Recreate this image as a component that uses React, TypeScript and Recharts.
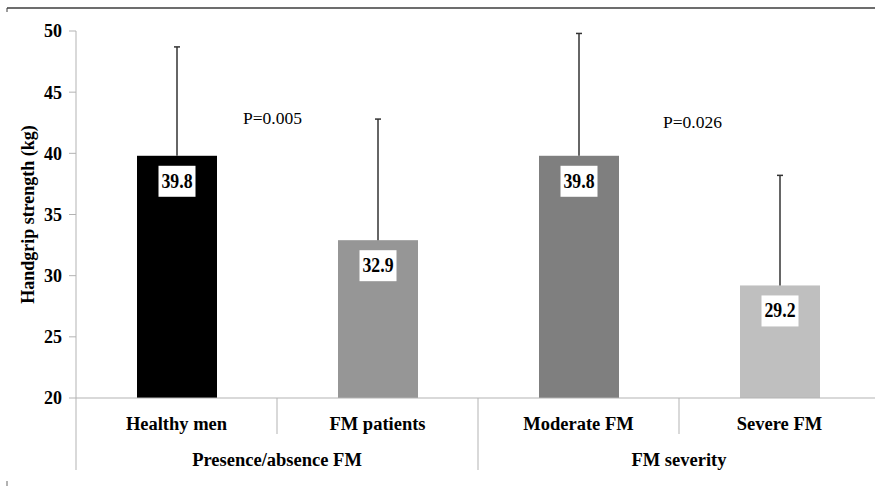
import { BarChart, Bar, XAxis, YAxis, LabelList, ReferenceDot } from 'recharts';

const categories = ['Healthy men', 'FM patients', 'Moderate FM', 'Severe FM'];
const groups = ['Presence/absence FM', 'FM severity'];
const means = [39.8, 32.9, 39.8, 29.2];
const sds = [8.9, 9.9, 10.0, 9.0];
const barColors = ['#000000', '#969696', '#7f7f7f', '#bfbfbf'];
const yDomain = [20, 50];
const yTicks = [20, 25, 30, 35, 40, 45, 50];
const pValues = ['P=0.005', 'P=0.026'];
const pValueLevels = [42.9, 42.6];
const pValueAnchors = ['Healthy men', 'Moderate FM'];

const FONT = '"Liberation Serif", "Times New Roman", Times, serif';
const AXIS = '#b3b3b3';

const data = categories.map((category, i) => ({
    category,
    mean: means[i],
    sd: sds[i],
    color: barColors[i],
}));

// bar plus an upward-only SD whisker, scaled from the bar's own pixel height
const MeanBar = (props: any) => {
    const { x, y, width, height, payload } = props;
    const pxPerUnit = height / (payload.mean - yDomain[0]);
    const top = y - payload.sd * pxPerUnit;
    const cx = x + width / 2;
    return (
        <g>
            <rect x={x} y={y} width={width} height={height} fill={payload.color} />
            <line x1={cx} x2={cx} y1={y} y2={top} stroke="#333" strokeWidth={1.5} />
            <line x1={cx - 3} x2={cx + 3} y1={top} y2={top} stroke="#333" strokeWidth={1.5} />
        </g>
    );
};

const ValueBox = (props: any) => {
    const { x, y, width, value } = props;
    const cx = x + width / 2;
    return (
        <g>
            <rect x={cx - 18.5} y={y + 10} width={37} height={31} fill="#fff" />
            <text
                x={cx}
                y={y + 32}
                textAnchor="middle"
                fontFamily={FONT}
                fontWeight="bold"
                fontSize={22}
                textLength={31}
                lengthAdjust="spacingAndGlyphs"
                fill="#000"
            >
                {Number(value).toFixed(1)}
            </text>
        </g>
    );
};

const CategoryTick = (props: any) => {
    const { x, y, payload, index } = props;
    const half = payload.offset ?? 100.5;
    const left = x - half;
    const opensGroup = index % 2 === 0;
    return (
        <g>
            <line x1={left} x2={left} y1={y} y2={y + (opensGroup ? 72 : 36)} stroke={AXIS} strokeWidth={1} />
            <text x={x} y={y + 32} textAnchor="middle" fontFamily={FONT} fontWeight="bold" fontSize={18.5} fill="#000">
                {payload.value}
            </text>
            {opensGroup && (
                <text x={x + half} y={y + 68} textAnchor="middle" fontFamily={FONT} fontWeight="bold" fontSize={18.5} fill="#000">
                    {groups[index / 2]}
                </text>
            )}
        </g>
    );
};

const YTitle = (props: any) => {
    const vb = props.viewBox || { y: 31, height: 367 };
    const cy = vb.y + vb.height / 2;
    return (
        <text
            transform={`translate(34, ${cy}) rotate(-90)`}
            textAnchor="middle"
            fontFamily={FONT}
            fontWeight="bold"
            fontSize={18}
            fill="#000"
        >
            Handgrip strength (kg)
        </text>
    );
};

const pValueShift = [96, 114];

export default function App() {
    return (
        <div style={{ position: 'absolute', left: 0, top: 0, width: 875, height: 486, overflow: 'hidden', background: '#fff' }}>
            <BarChart width={880} height={486} data={data} margin={{ top: 31, right: 0, bottom: 0, left: 0 }}>
                <YAxis
                    width={76}
                    domain={yDomain}
                    ticks={yTicks}
                    interval={0}
                    tickSize={7}
                    tickMargin={7}
                    axisLine={{ stroke: AXIS, strokeWidth: 1 }}
                    tickLine={{ stroke: AXIS, strokeWidth: 1 }}
                    tick={{ fill: '#000', fontSize: 18, fontWeight: 'bold', fontFamily: FONT }}
                    label={YTitle}
                />
                <XAxis
                    dataKey="category"
                    height={88}
                    interval={0}
                    tickSize={0}
                    tickMargin={0}
                    tickLine={false}
                    axisLine={{ stroke: AXIS, strokeWidth: 1 }}
                    tick={CategoryTick}
                />
                <Bar dataKey="mean" barSize={80} shape={MeanBar} isAnimationActive={false}>
                    <LabelList dataKey="mean" content={ValueBox} />
                </Bar>
                {pValues.map((p, i) => (
                    <ReferenceDot
                        key={p}
                        x={pValueAnchors[i]}
                        y={pValueLevels[i]}
                        r={0}
                        fill="none"
                        stroke="none"
                        label={(lp: any) => {
                            const vb = lp.viewBox || { x: 0, y: 0 };
                            return (
                                <text
                                    x={vb.x + pValueShift[i]}
                                    y={vb.y + 6}
                                    textAnchor="middle"
                                    fontFamily={FONT}
                                    fontSize={17.5}
                                    fill="#000"
                                >
                                    {p}
                                </text>
                            );
                        }}
                    />
                ))}
            </BarChart>
            <svg width={875} height={486} style={{ position: 'absolute', left: 0, top: 0, pointerEvents: 'none' }}>
                <line x1={7} x2={875} y1={8} y2={8} stroke="#3c3c3c" strokeWidth={1.5} />
                <line x1={7} x2={7} y1={8} y2={12} stroke="#3c3c3c" strokeWidth={1} />
                <line x1={7} x2={7} y1={481} y2={486} stroke="#666" strokeWidth={1} />
            </svg>
        </div>
    );
}
